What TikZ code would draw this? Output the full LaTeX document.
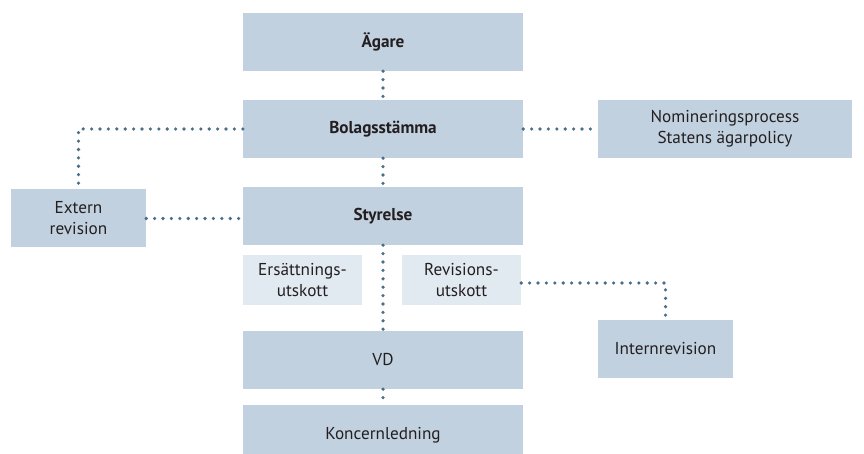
\documentclass[tikz,border=0pt]{standalone}
\usepackage{fontspec}
\setmainfont{PT Sans}
\definecolor{boxblue}{HTML}{C2D1E0}
\definecolor{paleblue}{HTML}{E1E9F1}
\definecolor{dotblue}{HTML}{4A6E88}
\definecolor{inktext}{HTML}{231F20}
\begin{document}
\begin{tikzpicture}[x=1pt,y=-1pt,
	box/.style={fill=boxblue, text=inktext, inner sep=0pt, minimum width=280pt, minimum height=58pt, align=center,
		font=\fontsize{17.2}{21}\selectfont},
	sidebox/.style={box, minimum width=135pt},
	subbox/.style={box, fill=paleblue, minimum width=119pt, minimum height=50pt},
	dotline/.style={draw=dotblue, line width=3.6pt, line cap=round, dash pattern=on 0pt off 8.4pt}]
	\useasboundingbox (0,0) rectangle (864,454);
	\clip (0,0) rectangle (864,454);
	% main chain
	\node[box] (agare) at (383,42) {\textbf{Ägare}};
	\node[box] (stamma) at (383,129) {\textbf{Bolagsstämma}};
	\node[box] (styrelse) at (383,216) {\textbf{Styrelse}};
	\node[box] (vd) at (383,360) {VD};
	\node[box, minimum height=60pt] (koncern) at (383,435) {Koncernledning};
	% side boxes
	\node[sidebox] (extern) at (78.5,218.5) {Extern\\revision};
	\node[sidebox, minimum width=254pt] (nominering) at (725,129) {Nomineringsprocess\\Statens ägarpolicy};
	\node[sidebox] (intern) at (665.5,349) {Internrevision};
	\node[subbox] (ersattning) at (302.5,280) {Ersättnings-\\utskott};
	\node[subbox] (revision) at (461.5,280) {Revisions-\\utskott};
	% dotted links
	\draw[dotline] (agare.south) -- (stamma.north);
	\draw[dotline] (stamma.south) -- (styrelse.north);
	\draw[dotline] (styrelse.south) -- (vd.north);
	\draw[dotline] (vd.south) -- (koncern.north);
	\draw[dotline] (stamma.west) -- (extern.north |- stamma.west) -- (extern.north);
	\draw[dotline] (extern.east) -- (extern.east -| styrelse.west);
	\draw[dotline] (stamma.east) -- (nominering.west);
	\draw[dotline] ([yshift=-3pt]revision.east) -- ([yshift=-3pt]revision.east -| intern.north) -- (intern.north);
\end{tikzpicture}
\end{document}
